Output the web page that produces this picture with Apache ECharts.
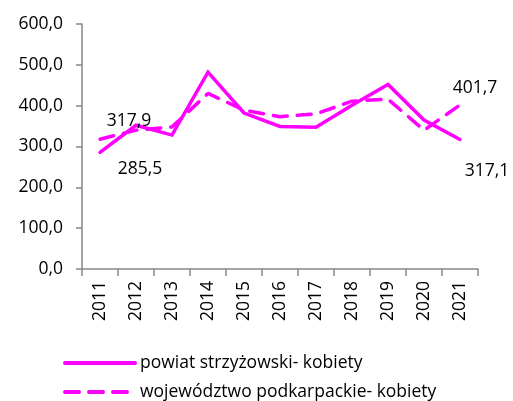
<!DOCTYPE html>
<html>
<head>
<meta charset="utf-8">
<script src="https://cdn.jsdelivr.net/npm/echarts@6/dist/echarts.min.js"></script>
<style>
  html, body { margin: 0; padding: 0; background: #ffffff; }
  #chart { width: 513px; height: 401px; }
</style>
</head>
<body>
<div id="chart"></div>
<script>
// Years on the category axis
const years = ['2011', '2012', '2013', '2014', '2015', '2016', '2017', '2018', '2019', '2020', '2021'];

// Series values
const powiatName = 'powiat strzyżowski- kobiety';
const powiatValues = [285.5, 352, 328, 482, 382, 349, 347, 401, 452, 365, 317.1];

const wojName = 'województwo podkarpackie- kobiety';
const wojValues = [317.9, 340, 348, 430, 389, 373, 380, 411, 416, 340, 401.7];

// Value axis ticks
const yTicks = [0, 100, 200, 300, 400, 500, 600];

const FONT = 'Open Sans';
const FONT_SIZE = 17.5;
const MAGENTA = '#ff00ff';
const AXIS_GREY = '#868686';

const fmt = v => v.toFixed(1).replace('.', ',');

// Value labels placed at the first and last year of a series
function endLabels(values, firstOffset, lastOffset) {
  const last = values.length - 1;
  return [
    { coord: [0, values[0]], value: values[0], label: { offset: firstOffset } },
    { coord: [last, values[last]], value: values[last], label: { offset: lastOffset } }
  ];
}

function markLabels(values, firstOffset, lastOffset) {
  return {
    symbol: 'circle',
    symbolSize: 0,
    silent: true,
    label: {
      show: true,
      position: 'inside',
      color: '#000',
      fontFamily: FONT,
      fontSize: FONT_SIZE,
      formatter: p => fmt(p.value)
    },
    data: endLabels(values, firstOffset, lastOffset)
  };
}

// One legend block per row, stacked under the plot
function legendRow(name, top) {
  return {
    orient: 'vertical',
    left: 58,
    top: top,
    itemWidth: 70,
    itemHeight: 14,
    itemGap: 0,
    itemStyle: { opacity: 0, borderWidth: 0 },
    lineStyle: { width: 4 },
    textStyle: { color: '#000', fontFamily: FONT, fontSize: FONT_SIZE },
    data: [name]
  };
}

const chart = echarts.init(document.getElementById('chart'), null, { renderer: 'canvas' });

chart.setOption({
  animation: false,
  backgroundColor: '#ffffff',
  textStyle: { fontFamily: FONT },
  grid: { left: 82, right: 35, top: 24, bottom: 132, containLabel: false },
  xAxis: {
    type: 'category',
    data: years,
    boundaryGap: true,
    axisLine: { lineStyle: { color: AXIS_GREY, width: 1.5 } },
    axisTick: { show: true, length: 7, inside: false, alignWithLabel: false, lineStyle: { color: AXIS_GREY, width: 1.5 } },
    axisLabel: { rotate: 90, margin: 12, color: '#000', fontFamily: FONT, fontSize: FONT_SIZE }
  },
  yAxis: {
    type: 'value',
    min: yTicks[0],
    max: yTicks[yTicks.length - 1],
    interval: yTicks[1] - yTicks[0],
    axisLine: { show: true, lineStyle: { color: AXIS_GREY, width: 1.5 } },
    axisTick: { show: true, length: 6, lineStyle: { color: AXIS_GREY, width: 1.5 } },
    splitLine: { show: false },
    axisLabel: { margin: 19, color: '#000', fontFamily: FONT, fontSize: FONT_SIZE, formatter: v => fmt(v) }
  },
  legend: [
    legendRow(powiatName, 349),
    legendRow(wojName, 378)
  ],
  series: [
    {
      name: powiatName,
      type: 'line',
      data: powiatValues,
      symbol: 'none',
      lineStyle: { color: MAGENTA, width: 3.5, cap: 'round', join: 'miter' },
      itemStyle: { color: MAGENTA },
      markPoint: markLabels(powiatValues, [40, 17], [27, 31])
    },
    {
      name: wojName,
      type: 'line',
      data: wojValues,
      symbol: 'none',
      lineStyle: { color: MAGENTA, width: 3.5, type: [14, 10], cap: 'round' },
      itemStyle: { color: MAGENTA },
      markPoint: markLabels(wojValues, [29, -18], [15, -17])
    }
  ]
});
</script>
</body>
</html>
